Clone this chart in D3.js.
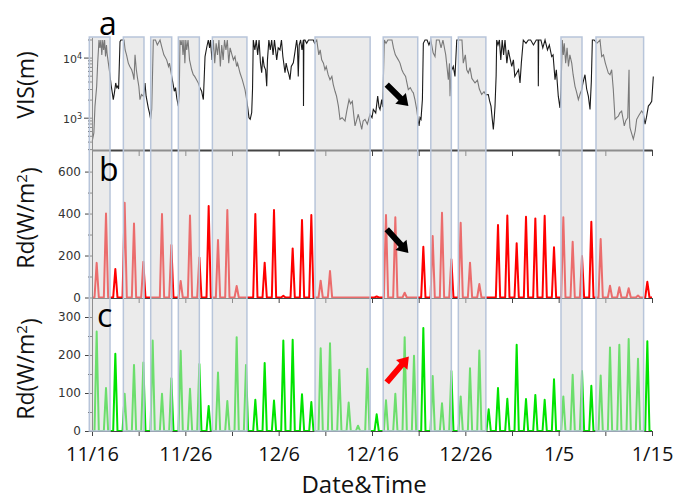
<!DOCTYPE html>
<html>
<head>
<meta charset="utf-8">
<script src="https://cdn.jsdelivr.net/npm/d3@7"></script>
<style>
  body { margin: 0; background: #fff; }
  svg { display: block; }
</style>
</head>
<body>
<svg id="chart" width="674" height="499"></svg>
<script>
// days are counted from 11/16 00:00
var startDate = Date.UTC(2012, 10, 16);
var tickDays = d3.range(0, 61, 5);
var labelDays = d3.range(0, 61, 10);

// grey shaded periods
var bandStart = [-0.29, 3.36, 6.29, 9.25, 12.9, 23.9, 31.2, 36.3, 39.25, 50.25, 54.0];
var bandEnd   = [1.93, 5.57, 8.54, 11.5, 16.6, 29.8, 34.9, 38.5, 42.2, 52.5, 59.1];

// visibility (m), [day, value]
var visPoints = [
  [0.03,410],[0.2,560],[0.32,1560],[0.5,3300],[0.61,8180],[0.75,19600],[0.85,14500],[0.95,19600],
  [1.05,11100],[1.15,19600],[1.25,13400],[1.35,19600],[1.45,10400],[1.55,16200],[1.61,12000],
  [1.75,8180],[1.9,5530],[2.04,3550],[2.15,2750],[2.28,2000],[2.4,2590],[2.54,3780],[2.65,3170],
  [2.75,3330],[2.85,3000],[3.0,18400],[3.1,19600],[3.43,19600],
  [3.55,13400],[3.7,11100],[3.89,8090],[4.05,7110],[4.25,6270],[4.4,5190],[4.5,4290],[4.61,11100],
  [4.75,6270],[4.9,4290],[5.02,3300],[5.14,2000],[5.3,2430],[5.5,2280],[5.6,2750],[5.68,3780],
  [5.8,2280],[6.03,1460],[6.15,1210],[6.29,940],[6.4,1400],[6.57,19600],[6.8,19600],[7.0,16200],[7.29,19600],
  [7.5,14500],[7.7,11100],[8.0,9170],[8.2,7110],[8.3,8090],[8.54,4860],[8.7,3550],[8.82,2750],
  [8.95,3170],[9.08,2140],[9.25,1560],[9.35,2500],[9.43,19600],
  [9.55,16200],[9.65,19600],[9.75,11100],[9.85,19600],[9.95,8090],[10.05,19600],[10.15,13400],
  [10.29,19600],[10.45,9170],[10.68,6270],[10.85,5190],[11.0,4860],[11.2,4290],[11.39,3780],
  [11.55,3170],[11.75,2750],[11.85,2280],[11.93,2000],[12.02,4500],[12.11,10400],[12.3,15000],[12.46,19600],
  [12.6,14500],[12.7,19600],[12.85,9170],[13.0,19600],[13.15,8090],[13.3,17300],[13.45,11100],
  [13.6,19600],[13.75,7110],[13.9,16200],[14.05,9170],[14.2,19600],[14.35,13400],[14.5,19600],
  [14.65,8090],[14.8,14500],[15.0,11100],[15.15,9170],[15.32,10400],[15.5,7110],[15.6,8090],
  [15.86,5530],[16.1,4290],[16.39,2930],[16.6,1880],[16.82,1000],[16.95,940],[17.11,1210],[17.2,3000],[17.28,19600],
  [17.45,13400],[17.6,19600],[17.75,11100],[17.9,19600],[18.05,8090],[18.18,5600],[18.3,10400],
  [18.45,7110],[18.6,6270],[18.72,3330],[18.8,9170],[18.95,19600],[19.1,13400],[19.25,19600],
  [19.4,11100],[19.55,19600],[19.79,9170],[19.95,14500],[20.14,13400],[20.3,19600],[20.45,10400],
  [20.68,5600],[20.8,8090],[20.95,6270],[21.1,5190],[21.21,4290],[21.35,7110],[21.57,8180],
  [21.7,11100],[21.93,19600],[22.02,14500],[22.1,4860],[22.2,16200],[22.35,19600],[22.5,13400],
  [22.64,19600],[22.66,1560],[22.7,19600],[22.82,19600],[23.0,17300],[23.2,19600],[23.5,19600],[23.71,19600],
  [23.85,17300],[24.08,19600],[24.3,11100],[24.45,13400],[24.61,9170],[24.8,8090],[24.96,6270],
  [25.1,7110],[25.3,5190],[25.5,4290],[25.7,4860],[25.85,3550],[26.04,2750],[26.2,2280],[26.4,1560],
  [26.57,940],[26.8,1000],[27.11,880],[27.3,1300],[27.54,2000],[27.7,1700],[27.89,1880],[28.05,1100],
  [28.18,730],[28.35,900],[28.53,1140],[28.7,880],[28.9,640],[29.05,880],[29.25,940],[29.5,780],
  [29.79,1140],[30.0,1000],[30.14,1370],[30.4,1200],[30.61,2280],[30.75,1500],[30.86,1370],
  [31.04,2000],[31.15,1500],[31.32,19600],
  [31.5,17300],[31.7,19600],[32.14,19600],[32.3,14500],[32.5,11100],[32.82,9170],[33.0,8090],
  [33.2,6270],[33.36,5530],[33.6,4860],[33.89,2930],[34.1,3170],[34.3,2750],[34.43,2590],[34.6,2000],
  [34.79,1370],[34.95,880],[35.04,730],[35.15,1000],[35.25,940],[35.4,2000],[35.5,17300],[35.68,19600],
  [35.9,19600],[36.1,16200],[36.3,19600],[36.55,12000],[36.75,10400],[36.9,19600],[37.2,19600],
  [37.4,14500],[37.6,19600],[37.9,11100],[38.18,4290],[38.3,8000],[38.36,2280],[38.5,6000],
  [38.71,7110],[38.89,4860],[39.08,19600],
  [39.64,19600],[39.78,8090],[40.0,11100],[40.15,6270],[40.32,5530],[40.5,6800],[40.7,4500],
  [41.04,3780],[41.3,4200],[41.5,3000],[41.75,2430],[42.0,2700],[42.2,2400],[42.46,2430],[42.6,1900],
  [42.75,1560],[42.9,900],[43.0,640],[43.1,1000],[43.18,1560],[43.3,5000],[43.36,19600],
  [43.5,16200],[43.65,19600],[43.8,9170],[43.95,19600],[44.1,11100],[44.25,19600],[44.45,8090],
  [44.61,13400],[44.75,10400],[44.97,7110],[45.15,9170],[45.3,4860],[45.5,5530],[45.7,6270],
  [45.86,3780],[46.0,8090],[46.21,19600],[46.5,17300],[46.75,19600],[47.0,19600],[47.3,16200],
  [47.6,19600],[47.8,19600],[47.82,3330],[47.86,19600],[48.1,19600],[48.3,14500],[48.54,19600],
  [48.8,13400],[49.0,16200],[49.25,10400],[49.4,11100],[49.61,4290],[49.75,6270],[49.96,2280],
  [50.14,1460],[50.25,3000],[50.39,19600],
  [50.5,11100],[50.6,17300],[50.75,8090],[50.9,14500],[51.05,7110],[51.2,11100],[51.4,8090],
  [51.55,5190],[51.75,3330],[51.9,2750],[52.11,2000],[52.3,2500],[52.47,2930],[52.6,3800],
  [52.82,5190],[53.0,3000],[53.18,2280],[53.36,1370],[53.5,4000],[53.61,19600],
  [53.8,19600],[54.1,17300],[54.43,19600],[54.61,10400],[54.8,11100],[55.0,8090],[55.32,5530],
  [55.5,5190],[55.68,6270],[55.85,3000],[56.04,940],[56.2,1000],[56.39,1060],[56.55,1200],
  [56.75,1290],[56.9,950],[57.03,730],[57.2,900],[57.4,1000],[57.54,6270],[57.58,1000],[57.64,680],
  [57.8,560],[58.0,440],[58.2,600],[58.36,940],[58.6,1100],[58.89,1290],[59.05,1200],[59.25,780],
  [59.4,1000],[59.61,1560],[59.8,1700],[59.97,1880],[60.14,4860]
];

// daily peak of Rd (W/m2), panel b, one value per day from 11/16
var rdPeakB = [165,400,136,451,353,170,0,398,250,79, 391,191,436,274,417,55,0,398,166,417,
               8,234,369,393,80,126,0,0,0,0, 5,393,382,23,0,242,293,404,182,356,
               166,64,0,345,391,258,385,377,390,239, 382,266,198,361,279,56,49,44,9,75];
// daily peak of Rd (W/m2), panel c
var rdPeakC = [262,113,203,98,174,180,238,98,139,211, 111,176,66,154,79,247,174,82,179,80,
               238,240,97,76,218,231,161,75,14,164, 44,81,98,247,198,271,145,73,158,91,
               165,212,57,113,85,227,84,95,82,136, 91,148,158,119,146,220,227,242,190,236];

// arrows: [day, value] tail -> head
var arrowA = [[31.58, 3550], [33.9, 1560]];
var arrowB = [[31.58, 325], [33.9, 212]];
var arrowC = [[31.58, 128], [33.95, 196]];

var svg = d3.select("#chart");
var left = 92, right = 652;
var topA = 37, botA = 150, topB = 150.6, botB = 297.5, topC = 298, botC = 431;

function day(d) { return new Date(startDate + d * 864e5); }

var x = d3.scaleUtc().domain([day(0), day(60)]).range([left, right]);
var yA = d3.scaleLog().domain([290, 22000]).range([botA, topA]);
var yB = d3.scaleLinear().domain([0, 700]).range([botB, topB]);
var yC = d3.scaleLinear().domain([0, 350]).range([botC, topC]);

var axisColor = "#444";
var tickFont = "'DejaVu Sans', sans-serif";
var titleFont = "'Open Sans', sans-serif";

// spikes for each day: rise in the morning, peak at noon, back to zero in the evening
function spikes(peaks) {
  var pts = [[0, 0]];
  peaks.forEach(function(v, i) {
    pts.push([i + 0.27, 0], [i + 0.5, v], [i + 0.73, 0]);
  });
  pts.push([60, 0]);
  return pts;
}

// ---- data lines
svg.append("path")
  .datum(visPoints)
  .attr("fill", "none")
  .attr("stroke", "#1a1a1a")
  .attr("stroke-width", 1.1)
  .attr("d", d3.line().x(function(d) { return x(day(d[0])); }).y(function(d) { return yA(d[1]); }));

svg.append("path")
  .datum(spikes(rdPeakB))
  .attr("fill", "none")
  .attr("stroke", "#ff0000")
  .attr("stroke-width", 2)
  .attr("stroke-linejoin", "round")
  .attr("d", d3.line().x(function(d) { return x(day(d[0])); }).y(function(d) { return yB(d[1]); }));

svg.append("path")
  .datum(spikes(rdPeakC))
  .attr("fill", "none")
  .attr("stroke", "#00e400")
  .attr("stroke-width", 2)
  .attr("stroke-linejoin", "round")
  .attr("d", d3.line().x(function(d) { return x(day(d[0])); }).y(function(d) { return yC(d[1]); }));

// ---- axes (lines & ticks), under the shading
function styleAxis(g, w) {
  g.select(".domain").attr("stroke", axisColor).attr("stroke-width", w || 1);
  g.selectAll(".tick line").attr("stroke", axisColor);
  g.selectAll(".tick text").attr("fill", "#333").style("font-family", tickFont).style("font-size", "12px");
}

var xTicks = tickDays.map(day);

svg.append("g")
  .attr("transform", "translate(0," + botA + ")")
  .call(d3.axisBottom(x).tickValues(xTicks).tickSize(6).tickSizeOuter(0).tickFormat(""))
  .call(styleAxis, 2);

svg.append("g")
  .attr("transform", "translate(0," + topC + ")")
  .call(d3.axisBottom(x).tickValues(xTicks).tickSize(5).tickSizeOuter(0).tickFormat(""))
  .call(styleAxis, 1);

var xAxis = svg.append("g")
  .attr("transform", "translate(0," + botC + ")")
  .call(d3.axisBottom(x).tickValues(xTicks).tickSize(5).tickSizeOuter(0)
    .tickFormat(function(d, i) { return labelDays.indexOf(tickDays[i]) >= 0 ? d3.utcFormat("%-m/%-d")(d) : ""; }))
  .call(styleAxis, 1.2);
xAxis.selectAll(".tick text")
  .style("font-family", titleFont).style("font-size", "20px").attr("fill", "#111").attr("dy", "1.1em");

// y axes
var gA = svg.append("g").attr("transform", "translate(" + left + ",0)")
  .call(d3.axisLeft(yA).tickValues([1000, 10000]).tickSize(8).tickSizeOuter(0).tickFormat(""))
  .call(styleAxis, 1);
svg.append("g").attr("transform", "translate(" + left + ",0)")
  .call(d3.axisLeft(yA).tickValues(yA.ticks().filter(function(v) {
      var l = Math.log10(v); return Math.abs(l - Math.round(l)) > 1e-6; }))
    .tickSize(4).tickSizeOuter(0).tickFormat(""))
  .call(styleAxis, 1)
  .select(".domain").remove();

gA.selectAll(".tick text").each(function(d) {
  var t = d3.select(this).text(null).attr("x", -10).attr("dy", "0.45em");
  t.append("tspan").text("10");
  t.append("tspan").attr("dy", "-0.55em").style("font-size", "8px").text(Math.round(Math.log10(d)));
});
gA.selectAll(".tick text").attr("fill", "#333").style("font-family", tickFont).style("font-size", "11px");

function linearAxis(scale, major, minor) {
  svg.append("g").attr("transform", "translate(" + left + ",0)")
    .call(d3.axisLeft(scale).tickValues(major).tickSize(7).tickSizeOuter(0).tickPadding(4))
    .call(styleAxis, 1);
  svg.append("g").attr("transform", "translate(" + left + ",0)")
    .call(d3.axisLeft(scale).tickValues(minor).tickSize(4).tickFormat(""))
    .call(styleAxis, 1)
    .select(".domain").remove();
}
linearAxis(yB, [0, 200, 400, 600], [100, 300, 500]);
linearAxis(yC, [0, 100, 200, 300], [50, 150, 250]);

// ---- shaded periods on top
var bands = svg.append("g");
bands.selectAll("rect")
  .data(d3.zip(bandStart, bandEnd))
  .join("rect")
  .attr("x", function(d) { return x(day(d[0])); })
  .attr("width", function(d) { return x(day(d[1])) - x(day(d[0])); })
  .attr("y", topA)
  .attr("height", botC - topA)
  .attr("fill", "rgb(216,216,216)")
  .attr("fill-opacity", 0.5)
  .attr("stroke", "rgb(184,197,218)")
  .attr("stroke-width", 1.5);

// ---- arrows
function arrow(pair, scale, color) {
  var x0 = x(day(pair[0][0])), y0 = scale(pair[0][1]);
  var x1 = x(day(pair[1][0])), y1 = scale(pair[1][1]);
  var ang = Math.atan2(y1 - y0, x1 - x0) * 180 / Math.PI;
  var len = Math.hypot(x1 - x0, y1 - y0);
  var hw = 3, head = 11, hh = 7.5;
  svg.append("path")
    .attr("transform", "translate(" + x0 + "," + y0 + ")rotate(" + ang + ")")
    .attr("fill", color)
    .attr("d", "M0," + (-hw) + "L" + (len - head) + "," + (-hw) + "L" + (len - head) + "," + (-hh) +
      "L" + len + ",0L" + (len - head) + "," + hh + "L" + (len - head) + "," + hw + "L0," + hw + "Z");
}
arrow(arrowA, yA, "#000");
arrow(arrowB, yB, "#000");
arrow(arrowC, yC, "#ff0000");

// ---- labels
function panelLetter(t, px, py) {
  svg.append("text").attr("x", px).attr("y", py).text(t)
    .style("font-family", titleFont).style("font-size", "32px").attr("fill", "#000");
}
panelLetter("a", 99, 35);
panelLetter("b", 99, 181);
panelLetter("c", 97, 327);

function yTitle(cy, sup) {
  var t = svg.append("text")
    .attr("transform", "translate(34," + cy + ")rotate(-90)")
    .attr("text-anchor", "middle")
    .style("font-family", titleFont).style("font-size", "23px").attr("fill", "#111");
  if (sup) {
    t.append("tspan").text("Rd(W/m");
    t.append("tspan").attr("dy", "-0.5em").style("font-size", "15px").text("2");
    t.append("tspan").attr("dy", "0.5em").text(")");
  } else {
    t.text("VIS(m)");
  }
}
yTitle(85, false);
yTitle(218, true);
yTitle(369, true);

svg.append("text")
  .attr("x", 364).attr("y", 493)
  .attr("text-anchor", "middle")
  .style("font-family", titleFont).style("font-size", "24px").attr("fill", "#111")
  .text("Date&Time");
</script>
</body>
</html>
